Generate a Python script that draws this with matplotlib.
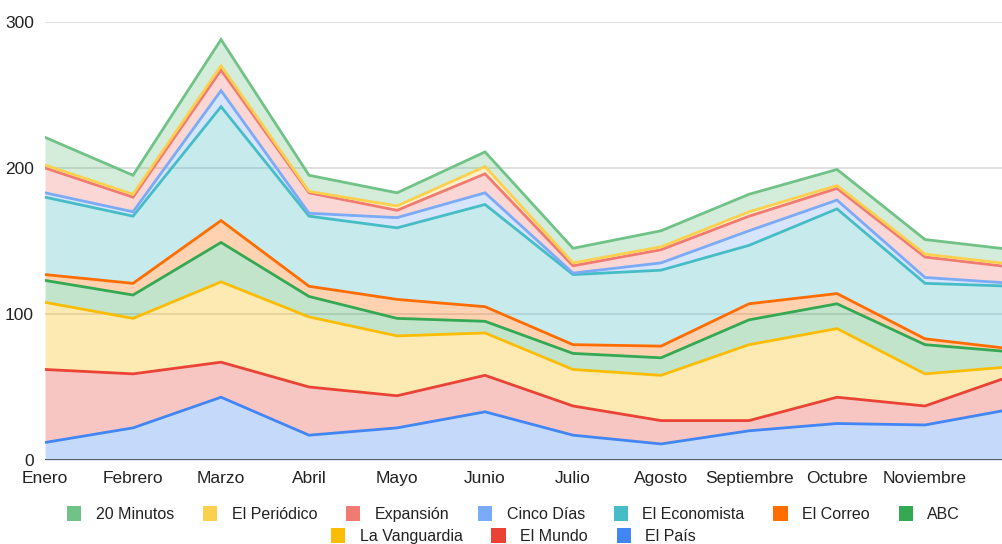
import matplotlib.pyplot as plt
from matplotlib.patches import Patch
import numpy as np

plt.rcParams["font.family"] = ["Liberation Sans", "DejaVu Sans"]

months = ["Enero", "Febrero", "Marzo", "Abril", "Mayo", "Junio", "Julio",
          "Agosto", "Septiembre", "Octubre", "Noviembre", "Diciembre"]

# stack order, bottom to top
el_pais = [12, 22, 43, 17, 22, 33, 17, 11, 20, 25, 24, 35]
el_mundo = [50, 37, 24, 33, 22, 25, 20, 16, 7, 18, 13, 23]
la_vanguardia = [46, 38, 55, 48, 41, 29, 25, 31, 52, 47, 22, 6]
abc = [15, 16, 27, 14, 12, 8, 11, 12, 17, 17, 20, 10]
el_correo = [4, 8, 15, 7, 13, 10, 6, 8, 11, 7, 4, 2]
el_economista = [53, 46, 78, 48, 49, 70, 48, 52, 40, 58, 38, 43]
cinco_dias = [3, 3, 11, 2, 7, 8, 1, 5, 10, 6, 4, 2]
expansion = [17, 10, 14, 14, 5, 13, 5, 9, 10, 8, 14, 11]
el_periodico = [2, 2, 3, 1, 3, 5, 2, 2, 3, 2, 2, 2]
veinte_minutos = [19, 13, 18, 11, 9, 10, 10, 11, 12, 11, 10, 10]

names = ["El País", "El Mundo", "La Vanguardia", "ABC", "El Correo",
         "El Economista", "Cinco Días", "Expansión", "El Periódico", "20 Minutos"]
series = [el_pais, el_mundo, la_vanguardia, abc, el_correo,
          el_economista, cinco_dias, expansion, el_periodico, veinte_minutos]
colors = ["#4285F4", "#EA4335", "#FBBC04", "#34A853", "#FF6D01",
          "#46BDC6", "#7BAAF7", "#F07B72", "#FCD04F", "#71C287"]

x = np.arange(len(months))
tops = np.cumsum(np.array(series, dtype=float), axis=0)

fig = plt.figure(figsize=(10.03, 5.44), dpi=100)
ax = fig.add_axes([0.0449, 0.1544, 0.9551, 0.8052])

bottom = np.zeros(len(months))
for top, c in zip(tops, colors):
    ax.fill_between(x, bottom, top, color=c, alpha=0.3, lw=0, zorder=2)
    bottom = top
for top, c in zip(tops, colors):
    ax.plot(x, top, color=c, lw=2, zorder=3, solid_joinstyle="miter")

# the chart is cropped just before Diciembre
ax.set_xlim(0, 10.886)
ax.set_ylim(0, 300)
ax.set_xticks(x[:-1])
ax.set_xticklabels(months[:-1])
ax.set_yticks([0, 100, 200, 300])
ax.tick_params(axis="both", length=0, labelsize=12.5, colors="#222222")
ax.tick_params(axis="x", pad=8)
ax.tick_params(axis="y", pad=8)
ax.grid(axis="y", color="#d9d9d9", lw=1.2, zorder=0)
ax.axhline(0, color="#444444", lw=1.2, zorder=4)
for s in ax.spines.values():
    s.set_visible(False)

handles = [Patch(facecolor=c, edgecolor="none") for c in colors]
row1 = [9, 8, 7, 6, 5, 4, 3]
row2 = [2, 1, 0]
leg_kw = dict(frameon=False, fontsize=11.5, handlelength=0.9, handleheight=1.1,
              handletextpad=0.9, columnspacing=1.8, labelcolor="#222222",
              borderaxespad=0, borderpad=0)
fig.legend([handles[i] for i in row1], [names[i] for i in row1],
           loc="center", bbox_to_anchor=(0.512, 0.055), ncol=7, **leg_kw)
fig.legend([handles[i] for i in row2], [names[i] for i in row2],
           loc="center", bbox_to_anchor=(0.512, 0.0147), ncol=3, **leg_kw)

fig.savefig("out.png", dpi=100)
